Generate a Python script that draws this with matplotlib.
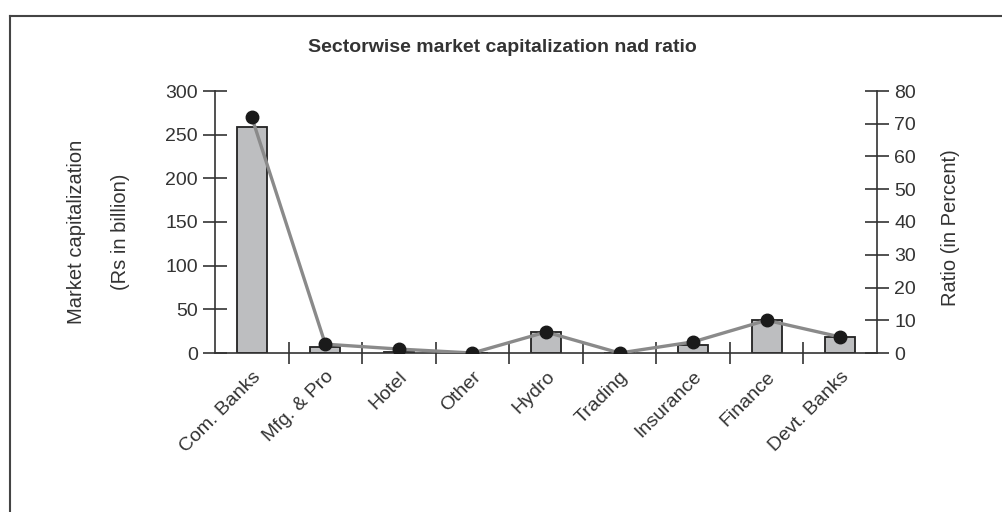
import matplotlib.pyplot as plt
from matplotlib.lines import Line2D

sectors = ["Com. Banks", "Mfg. & Pro", "Hotel", "Other", "Hydro",
           "Trading", "Insurance", "Finance", "Devt. Banks"]
market_cap = [259, 7, 1, 0, 24, 0, 9, 38, 18]      # Rs in billion
ratio = [72, 2.7, 1.2, 0, 6.4, 0, 3.4, 10, 4.9]    # percent

plt.rcParams['font.family'] = ['Liberation Sans', 'DejaVu Sans']
text_color = "#333333"
bar_color = "#bdbec0"
line_color = "#8a8a8a"

fig = plt.figure(figsize=(10.02, 5.12), dpi=100)
ax = fig.add_axes([215/1002, 1-353/512, (877-215)/1002, (353-91)/512])
ax2 = ax.twinx()

x = list(range(len(sectors)))
ax.bar(x, market_cap, width=0.41, color=bar_color, edgecolor="#222222", linewidth=1.3, zorder=2)
ax.set_ylim(0, 300)
ax.set_xlim(-0.5, 8.5)
ax.set_yticks([0, 50, 100, 150, 200, 250, 300])

ax2.plot(x, ratio, color=line_color, lw=2.4, marker="o", markersize=9,
         markerfacecolor="#1a1a1a", markeredgecolor="#1a1a1a", zorder=3)
ax2.set_ylim(0, 80)
ax2.set_yticks(range(0, 81, 10))

# x ticks: labels at the centres, tick marks between categories
ax.set_xticks(x)
ax.set_xticklabels(sectors, rotation=45, ha="right", rotation_mode="anchor",
                   fontsize=14, color=text_color)
ax.tick_params(axis="x", which="major", length=0, pad=11)
ax.set_xticks([i + 0.5 for i in range(len(sectors) - 1)], minor=True)
ax.tick_params(axis="x", which="minor", direction="inout", length=16, width=1.2, color="#333333")

for a in (ax, ax2):
    for s in a.spines.values():
        s.set_visible(False)
ax.spines["left"].set_visible(True)
ax.spines["bottom"].set_visible(True)
ax2.spines["right"].set_visible(True)
for s in (ax.spines["left"], ax.spines["bottom"], ax2.spines["right"]):
    s.set_color("#333333")
    s.set_linewidth(1.2)

ax.tick_params(axis="y", direction="inout", length=17, width=1.2, color="#333333",
               labelsize=14, labelcolor=text_color, pad=4)
ax2.tick_params(axis="y", direction="inout", length=17, width=1.2, color="#333333",
                labelsize=14, labelcolor=text_color, pad=4)

fig.text(77/1002, 1-232/512, "Market capitalization", rotation=90, ha="center", va="center",
         fontsize=14.5, color=text_color)
fig.text(120/1002, 1-232/512, "(Rs in billion)", rotation=90, ha="center", va="center",
         fontsize=14.5, color=text_color)
fig.text(951/1002, 1-228/512, "Ratio (in Percent)", rotation=90, ha="center", va="center",
         fontsize=14.5, color=text_color)
fig.text(502/1002, 1-47/512, "Sectorwise market capitalization nad ratio", ha="center",
         va="center", fontsize=14, fontweight="bold", color=text_color)

# frame around the figure (only top and left edge fall inside the picture)
fig.add_artist(Line2D([10/1002, 10/1002], [0, 1-16/512], transform=fig.transFigure,
                      color="#444444", lw=1.5))
fig.add_artist(Line2D([10/1002, 1], [1-16/512, 1-16/512], transform=fig.transFigure,
                      color="#444444", lw=1.5))

fig.savefig("out.png", dpi=100)
